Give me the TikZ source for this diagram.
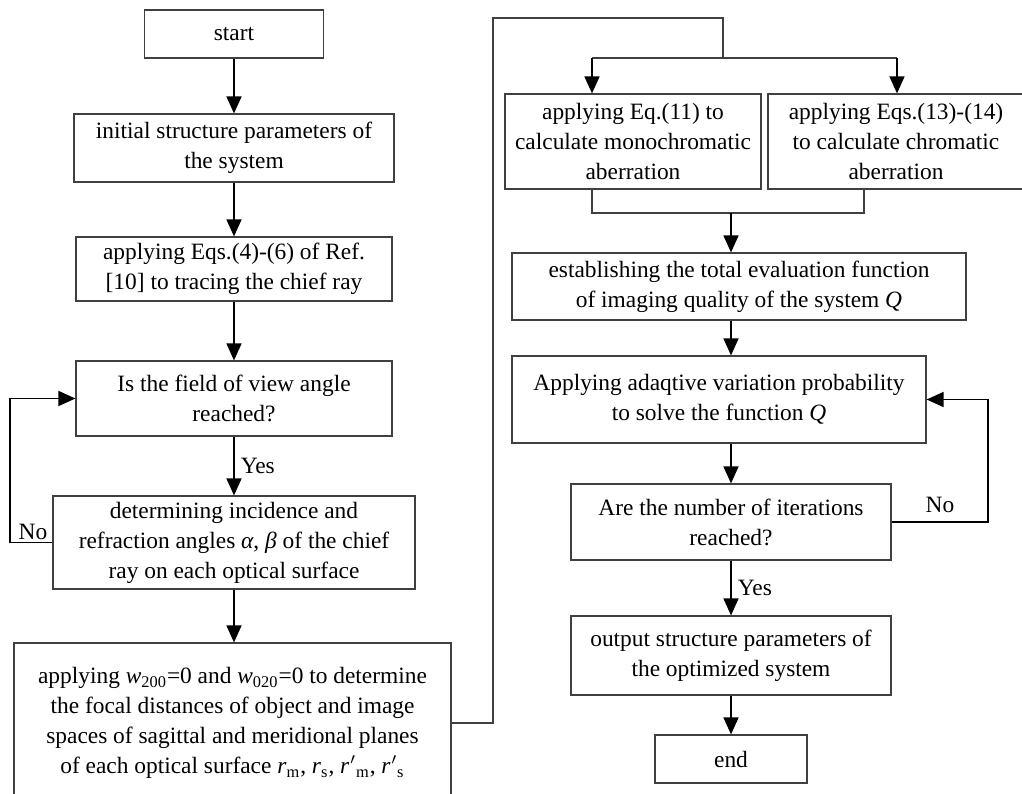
\documentclass[tikz,border=0pt]{standalone}
\usepackage{fontspec}
\setmainfont{Liberation Serif}
\usetikzlibrary{arrows.meta}
\tikzset{
  box/.style={draw=black!75, line width=0.6pt, align=center, inner sep=2pt, font=\fontsize{11.7}{15}\selectfont},
  conn/.style={draw=black!75, line width=0.6pt},
  arr/.style={line width=0.8pt, -{Triangle[length=8.5pt,width=7.5pt]}},
  lbl/.style={font=\fontsize{11.7}{15}\selectfont, inner sep=1pt}
}
\begin{document}
\begin{tikzpicture}[x=0.5pt,y=-0.5pt]
        \useasboundingbox (0,0) rectangle (1022,793);
        % left column
        \node[box, minimum width=89.5pt, minimum height=24pt] (start) at (234,34) {start};
        \node[box, minimum width=160pt, minimum height=34pt] (init) at (234,148) {initial structure parameters of\\the system};
        \node[box, minimum width=158pt, minimum height=32pt] (eqs) at (234,269) {applying Eqs.(4)-(6) of Ref.\\{}[10] to tracing the chief ray};
        \node[box, minimum width=158pt, minimum height=37.5pt] (field) at (234,398.5) {Is the field of view angle\\reached?};
        \node[box, minimum width=181pt, minimum height=46.5pt] (det) at (234,542.5) {determining incidence and\\refraction angles \textit{α}, \textit{β} of the chief\\ray on each optical surface};
        \node[box, minimum width=218.5pt, minimum height=80pt] (wbox) at (232.5,723) {applying \textit{w}\textsubscript{200}=0 and \textit{w}\textsubscript{020}=0 to determine\\the focal distances of object and image\\spaces of sagittal and meridional planes\\of each optical surface \textit{r}\textsubscript{m}, \textit{r}\textsubscript{s}, \textit{r}\kern0.5pt$'$\textsubscript{m}, \textit{r}\kern0.5pt$'$\textsubscript{s}};
        % right column
        \node[box, minimum width=128pt, minimum height=47.5pt] (mono) at (633,141.5) {applying Eq.(11) to\\calculate monochromatic\\aberration};
        \node[box, minimum width=128pt, minimum height=47.5pt] (chrom) at (896,141.5) {applying Eqs.(13)-(14)\\to calculate chromatic\\aberration};
        \node[box, minimum width=227pt, minimum height=33.5pt] (est) at (739,286.5) {establishing the total evaluation function\\of imaging quality of the system \textit{Q}};
        \node[box, minimum width=207pt, minimum height=43.5pt] (adapt) at (719,399.5) {Applying adaqtive variation probability\\to solve the function \textit{Q}};
        \node[box, minimum width=160pt, minimum height=38pt] (are) at (731,522) {Are the number of iterations\\reached?};
        \node[box, minimum width=160pt, minimum height=39.5pt] (out) at (731,655.5) {output structure parameters of\\the optimized system};
        \node[box, minimum width=76pt, minimum height=24pt] (stop) at (731,759) {end};
        % left flow
        \draw[arr] (start) -- (init);
        \draw[arr] (init) -- (eqs);
        \draw[arr] (eqs) -- (field);
        \draw[arr] (field) -- node[lbl, right=2pt] (yesL) {Yes} (det);
        \draw[arr] (det) -- (det |- wbox.north);
        \coordinate (noL) at (10,0);
        \draw[arr] (det.west) -- (det.west -| noL) |- (field.west);
        \node[lbl] (noLtxt) at (33,532) {No};
        % jump to the right column
        \coordinate (topL) at (493,18);
        \coordinate (split) at (723,58);
        \coordinate (spL) at (592,58);
        \coordinate (spR) at (897,58);
        \draw[conn] (wbox.east) -| (topL) -| (split);
        \draw[conn] (spL) -- (spR);
        \draw[arr] (spL) -- (spL |- mono.north);
        \draw[arr] (spR) -- (spR |- chrom.north);
        \coordinate (jnL) at (592,213);
        \coordinate (jnR) at (864,213);
        \draw[conn] (jnL |- mono.south) -- (jnL) -- (jnR) -- (jnR |- chrom.south);
        % right flow
        \draw[arr] (jnL -| are) -- (are |- est.north);
        \draw[arr] (est.south -| are) -- (are |- adapt.north);
        \draw[arr] (adapt.south -| are) -- (are.north);
        \draw[arr] (are) -- node[lbl, right=2pt] (yesR) {Yes} (out);
        \draw[arr] (out) -- (stop);
        \coordinate (noR) at (988,0);
        \draw[arr] (are.east) -- (are.east -| noR) |- (adapt.east);
        \node[lbl] (noRtxt) at (940,505) {No};
\end{tikzpicture}
\end{document}
